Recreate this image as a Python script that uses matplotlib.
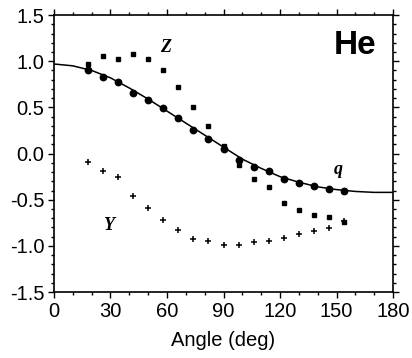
import numpy as np
import matplotlib.pyplot as plt
from matplotlib.ticker import MultipleLocator

plt.rcParams['font.family'] = ['Liberation Sans', 'DejaVu Sans']
plt.rcParams['axes.unicode_minus'] = False

# measured angles (deg)
angles = [18, 26, 34, 42, 50, 58, 66, 74, 82, 90, 98, 106, 114, 122, 130, 138, 146, 154]

q_vals = [0.91, 0.83, 0.78, 0.66, 0.58, 0.49, 0.38, 0.26, 0.16, 0.05, -0.07, -0.14,
          -0.19, -0.27, -0.32, -0.35, -0.38, -0.41]
z_vals = [0.97, 1.06, 1.02, 1.08, 1.02, 0.90, 0.72, 0.50, 0.30, 0.08, -0.12, -0.27,
          -0.36, -0.54, -0.61, -0.66, -0.69, -0.74]
y_vals = [-0.09, -0.19, -0.25, -0.46, -0.59, -0.72, -0.83, -0.93, -0.95, -0.99, -0.99,
          -0.96, -0.945, -0.91, -0.87, -0.84, -0.81, -0.73]

# theory curve
curve_ang = [0, 10, 20, 30, 40, 50, 60, 70, 80, 90, 100, 110, 120, 130, 140, 150, 160, 170, 180]
curve_val = [0.97, 0.95, 0.90, 0.82, 0.71, 0.59, 0.46, 0.33, 0.20, 0.07, -0.06, -0.16,
             -0.25, -0.31, -0.36, -0.39, -0.41, -0.42, -0.42]

fig = plt.figure(figsize=(4.12, 3.58), dpi=100)
ax = fig.add_axes([0.131, 0.184, 0.823, 0.774])

ax.plot(curve_ang, curve_val, color='black', lw=1.1)
ax.plot(angles, q_vals, 'o', color='black', ms=4.6)
ax.plot(angles, z_vals, 's', color='black', ms=2.6)
ax.plot(angles, y_vals, '+', color='black', ms=5, mew=1.1)

serif = dict(family=['Liberation Serif', 'DejaVu Serif'], fontweight='bold',
             fontstyle='italic', fontsize=13, ha='center', va='center')
ax.text(59, 1.15, 'Z', **serif)
ax.text(151, -0.17, 'q', **serif)
ax.text(29, -0.78, 'Y', **serif)
ax.text(160, 1.17, 'He', fontsize=24, fontweight='bold', ha='center', va='center')

ax.set_xlim(0, 180)
ax.set_ylim(-1.5, 1.5)
ax.xaxis.set_major_locator(MultipleLocator(30))
ax.xaxis.set_minor_locator(MultipleLocator(10))
ax.yaxis.set_major_locator(MultipleLocator(0.5))
ax.yaxis.set_minor_locator(MultipleLocator(0.1))
ax.yaxis.set_major_formatter(plt.FuncFormatter(lambda v, p: f'{v:.1f}'))
ax.tick_params(which='both', direction='out', top=True, right=True, labelsize=14.5, width=1)
ax.tick_params(which='major', length=4, pad=3)
ax.tick_params(which='minor', length=2.5)
for s in ax.spines.values():
    s.set_linewidth(1.2)

ax.set_xlabel('Angle (deg)', fontsize=14.5, labelpad=7)

fig.savefig('out.png', dpi=100)
